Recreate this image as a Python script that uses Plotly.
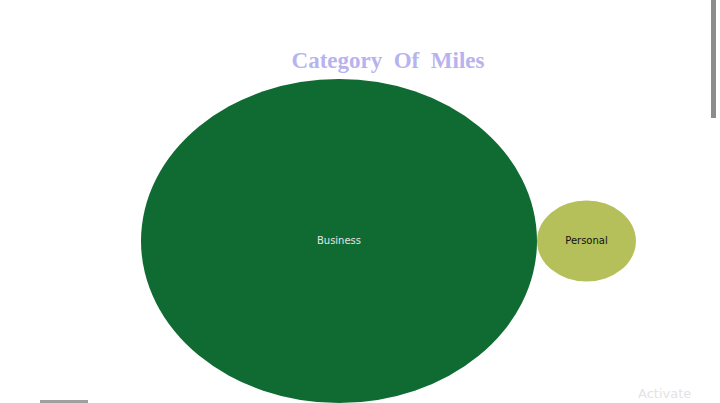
import math
import plotly.graph_objects as go

categories = ["Business", "Personal"]
miles = [11487, 717]
colors = ["#0f6b32", "#b5c05a"]
label_colors = ["#e4e4e4", "#111111"]

radii = [math.sqrt(v) for v in miles]
# centres: bubbles packed side by side, touching
cx = [radii[0], 2 * radii[0] + radii[1]]
cy = [0, 0]

fig = go.Figure()
shapes = []
for c, r, x, y in zip(colors, radii, cx, cy):
    shapes.append(dict(type="circle", xref="x", yref="y",
                       x0=x - r, x1=x + r, y0=y - r, y1=y + r,
                       fillcolor=c, line=dict(width=0), layer="below"))

fig.add_trace(go.Scatter(
    x=cx, y=cy, mode="text", text=categories,
    textfont=dict(family="DejaVu Sans", size=10, color=label_colors),
    hoverinfo="text", showlegend=False))

# screenshot artefacts (scrollbar, bottom bar)
shapes.append(dict(type="rect", xref="paper", yref="paper",
                   x0=711/720, x1=716/720, y0=1 - 118/403, y1=1,
                   fillcolor="#8c8c8c", line=dict(width=0)))
shapes.append(dict(type="rect", xref="paper", yref="paper",
                   x0=40/720, x1=88/720, y0=0, y1=3/403,
                   fillcolor="#a0a0a0", line=dict(width=0)))

xs = 198 / radii[0]
ys = 162 / radii[0]
fig.update_layout(
    width=720, height=403,
    margin=dict(l=0, r=0, t=0, b=0),
    paper_bgcolor="white", plot_bgcolor="white",
    shapes=shapes,
    xaxis=dict(range=[-141 / xs, (720 - 141) / xs], visible=False, fixedrange=True),
    yaxis=dict(range=[-162 / ys, 241 / ys], visible=False, fixedrange=True),
    title=dict(text="<b>Category\u00a0 Of\u00a0 Miles</b>", x=388/720, xanchor="center",
               y=1 - 60/403, yanchor="middle",
               font=dict(family="Liberation Serif", size=23, color="#b8b3ee")),
    annotations=[dict(text="Activate", xref="paper", yref="paper",
                      x=636/720, y=0, xanchor="left", yanchor="bottom",
                      showarrow=False,
                      font=dict(family="DejaVu Sans", size=13, color="#e3e3e3"))],
)

fig.write_html("out.html")
